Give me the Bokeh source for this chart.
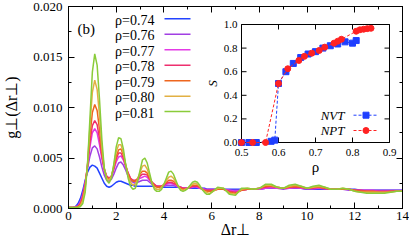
from bokeh.plotting import figure
from bokeh.models import (Range1d, LinearAxis, SingleIntervalTicker, PrintfTickFormatter,
                          CustomJSTickFormatter)
from bokeh.core.properties import value
from bokeh.embed import file_html
from bokeh.resources import INLINE

# ---------------- data: main panel g_perp(dr_perp) ----------------
r = [0.0, 0.1, 0.2, 0.3, 0.4, 0.5, 0.6, 0.7, 0.8, 0.9,
     1.0, 1.1, 1.2, 1.3, 1.4, 1.5, 1.6, 1.7, 1.8, 1.9,
     2.0, 2.1, 2.2, 2.3, 2.4, 2.5, 2.6, 2.7, 2.8, 2.9,
     3.0, 3.1, 3.2, 3.3, 3.4, 3.5, 3.6, 3.7, 3.8, 3.9,
     4.0, 4.1, 4.2, 4.3, 4.4, 4.5, 4.6, 4.7, 4.8, 4.9,
     5.0, 5.1, 5.2, 5.3, 5.4, 5.5, 5.6, 5.7, 5.8, 5.9,
     6.0, 6.25, 6.5, 6.75, 7.0, 7.25, 7.5, 7.75, 8.0, 8.25,
     8.5, 8.75, 9.0, 9.25, 9.5, 9.75, 10.0, 10.25, 10.5, 10.75,
     11.0, 11.25, 11.5, 11.75, 12.0, 12.25, 12.5, 12.75, 13.0, 13.25,
     13.5, 13.75, 14.0]

g_074 = [.0001, .0001, .0001, .0002, .0005, .0010, .0018, .0028, .0036, .0041,
         .0043, .0042, .0040, .0035, .0030, .0025, .0022, .0021, .0022, .0024,
         .0026, .0027, .0027, .0026, .0025, .0024, .0023, .0023, .0022, .0022,
         .0022, .0022, .0022, .0022, .0022, .0022, .0022, .0022, .0021, .0021,
         .0021, .0021, .0021, .0021, .0021, .0021, .0021, .0020, .0020, .0020,
         .0020, .0020, .0020, .0020, .0020, .0020, .0020, .0020, .0019, .0019,
         .0019, .0019, .0019, .0019, .0019, .0019, .0019, .0019, .0019, .0020,
         .0020, .0020, .0020, .0020, .0020, .0020, .0019, .0019, .0019, .0019,
         .0019, .0019, .0019, .0019, .0019, .0018, .0018, .0018, .0018, .0018,
         .0018, .0018, .0018]

g_076 = [.0001, .0001, .0001, .0002, .0003, .0007, .0015, .0026, .0040, .0052,
         .0060, .0062, .0059, .0051, .0041, .0033, .0028, .0027, .0029, .0034,
         .0040, .0045, .0046, .0043, .0038, .0032, .0028, .0026, .0025, .0026,
         .0027, .0028, .0028, .0028, .0026, .0024, .0023, .0022, .0022, .0022,
         .0022, .0023, .0023, .0023, .0023, .0022, .0021, .0021, .0020, .0020,
         .0020, .0020, .0021, .0021, .0021, .0020, .0020, .0019, .0019, .0019,
         .0019, .0019, .0019, .0018, .0018, .0018, .0019, .0019, .0019, .0020,
         .0020, .0020, .0019, .0020, .0020, .0020, .0019, .0019, .0020, .0019,
         .0019, .0019, .0019, .0018, .0018, .0018, .0018, .0018, .0018, .0018,
         .0018, .0018, .0018]

g_077 = [.0001, .0001, .0001, .0001, .0002, .0006, .0013, .0025, .0042, .0061,
         .0075, .0079, .0075, .0063, .0049, .0038, .0032, .0030, .0032, .0038,
         .0046, .0051, .0052, .0048, .0041, .0035, .0030, .0028, .0027, .0028,
         .0030, .0031, .0032, .0031, .0028, .0026, .0024, .0022, .0022, .0022,
         .0023, .0024, .0025, .0025, .0024, .0023, .0022, .0021, .0020, .0020,
         .0020, .0021, .0021, .0022, .0021, .0020, .0019, .0019, .0018, .0018,
         .0018, .0019, .0019, .0018, .0017, .0018, .0019, .0019, .0019, .0020,
         .0021, .0020, .0020, .0020, .0021, .0020, .0020, .0020, .0020, .0020,
         .0019, .0019, .0019, .0019, .0018, .0018, .0018, .0018, .0017, .0017,
         .0017, .0017, .0017]

g_078 = [.0001, .0001, .0001, .0001, .0002, .0005, .0012, .0024, .0043, .0066,
         .0082, .0087, .0083, .0069, .0052, .0039, .0032, .0030, .0032, .0040,
         .0049, .0055, .0055, .0050, .0042, .0035, .0030, .0028, .0028, .0029,
         .0032, .0034, .0034, .0033, .0029, .0026, .0024, .0022, .0022, .0022,
         .0023, .0025, .0026, .0026, .0025, .0024, .0022, .0021, .0020, .0020,
         .0020, .0021, .0022, .0022, .0022, .0021, .0019, .0018, .0018, .0018,
         .0018, .0019, .0019, .0017, .0016, .0018, .0019, .0019, .0020, .0021,
         .0022, .0021, .0020, .0021, .0021, .0021, .0020, .0020, .0021, .0020,
         .0019, .0019, .0019, .0019, .0018, .0018, .0017, .0017, .0017, .0017,
         .0017, .0017, .0017]

g_079 = [.0001, .0001, .0001, .0001, .0002, .0004, .0010, .0022, .0044, .0072,
         .0095, .0103, .0097, .0078, .0055, .0039, .0031, .0029, .0032, .0041,
         .0052, .0058, .0059, .0053, .0043, .0034, .0029, .0027, .0027, .0030,
         .0034, .0037, .0037, .0035, .0030, .0026, .0023, .0021, .0021, .0022,
         .0024, .0026, .0028, .0028, .0027, .0025, .0022, .0020, .0019, .0019,
         .0020, .0022, .0023, .0023, .0023, .0021, .0019, .0018, .0017, .0017,
         .0017, .0019, .0019, .0016, .0015, .0018, .0019, .0019, .0020, .0022,
         .0022, .0021, .0020, .0021, .0022, .0021, .0020, .0021, .0021, .0020,
         .0019, .0019, .0019, .0019, .0018, .0017, .0017, .0017, .0016, .0016,
         .0017, .0017, .0017]

g_080 = [.0001, .0001, .0001, .0001, .0001, .0003, .0008, .0020, .0045, .0082,
         .0115, .0127, .0118, .0092, .0060, .0040, .0030, .0028, .0032, .0043,
         .0056, .0063, .0063, .0055, .0043, .0032, .0026, .0023, .0024, .0029,
         .0036, .0042, .0043, .0039, .0032, .0025, .0021, .0019, .0019, .0021,
         .0024, .0028, .0031, .0032, .0030, .0026, .0022, .0019, .0018, .0019,
         .0020, .0022, .0024, .0025, .0024, .0022, .0019, .0017, .0016, .0015,
         .0016, .0020, .0020, .0015, .0014, .0019, .0020, .0019, .0020, .0023,
         .0023, .0021, .0020, .0022, .0023, .0022, .0020, .0021, .0022, .0021,
         .0019, .0019, .0020, .0019, .0017, .0016, .0016, .0016, .0016, .0016,
         .0016, .0017, .0017]

g_081 = [.0001, .0001, .0001, .0001, .0001, .0002, .0005, .0016, .0045, .0090,
         .0135, .0153, .0142, .0108, .0068, .0040, .0028, .0025, .0030, .0044,
         .0061, .0070, .0069, .0059, .0043, .0030, .0022, .0019, .0020, .0027,
         .0038, .0048, .0050, .0045, .0035, .0025, .0019, .0017, .0017, .0019,
         .0024, .0030, .0036, .0037, .0034, .0028, .0022, .0018, .0017, .0018,
         .0020, .0023, .0026, .0027, .0026, .0023, .0019, .0016, .0014, .0014,
         .0016, .0021, .0020, .0014, .0013, .0020, .0020, .0019, .0020, .0024,
         .0024, .0021, .0020, .0023, .0024, .0022, .0020, .0022, .0023, .0021,
         .0019, .0019, .0020, .0019, .0017, .0016, .0015, .0015, .0015, .0015,
         .0016, .0017, .0017]

series = [g_074, g_076, g_077, g_078, g_079, g_080, g_081]
rho_labels = ["ρ=0.74", "ρ=0.76", "ρ=0.77", "ρ=0.78", "ρ=0.79", "ρ=0.80", "ρ=0.81"]
colors = ["#2343ff", "#a13fe3", "#e43ae6", "#ee2f6e", "#ee661e", "#e2b043", "#8acc3a"]

# ---------------- data: inset S(rho) ----------------
rho_nvt = [0.50, 0.52, 0.54, 0.58, 0.59, 0.60, 0.62, 0.64, 0.66, 0.68, 0.70, 0.72,
           0.74, 0.76, 0.78, 0.80, 0.81]
S_nvt = [0.00, 0.00, 0.00, 0.01, 0.02, 0.50, 0.60, 0.67, 0.72, 0.75, 0.77, 0.80,
         0.82, 0.835, 0.853, 0.842, 0.864]
rho_npt = [0.50, 0.53, 0.565, 0.60, 0.625, 0.655, 0.67, 0.69, 0.71, 0.725, 0.75,
           0.76, 0.77, 0.81, 0.82, 0.83, 0.84, 0.85]
S_npt = [0.00, 0.00, 0.00, 0.50, 0.625, 0.695, 0.73, 0.757, 0.78, 0.808, 0.842,
         0.858, 0.875, 0.943, 0.955, 0.96, 0.965, 0.968]
inset_xticks = [0.5, 0.6, 0.7, 0.8, 0.9]
inset_yticks = [0.0, 0.2, 0.4, 0.6, 0.8, 1.0]

# ---------------- layout (canvas px) ----------------
W, H = 409, 244
FL, FR, FT, FB = 68, 402, 6, 208
FONT = "Liberation Serif"

p = figure(width=W, height=H, x_range=Range1d(0, 14), y_range=Range1d(0, 0.02),
           output_backend="svg", toolbar_location=None,
           min_border_left=FL, min_border_right=W - FR,
           min_border_top=FT, min_border_bottom=H - FB)
p.background_fill_color = "white"
p.border_fill_color = "white"
p.outline_line_color = "black"
p.grid.visible = False


def dx(px):  # canvas px -> data x
    return (px - FL) * 14.0 / (FR - FL)


def dy(py):  # canvas px -> data y
    return (FB - py) * 0.02 / (FB - FT)


def style_axis(ax, show_labels=True):
    ax.major_tick_in = 6
    ax.major_tick_out = 0
    ax.minor_tick_in = 3
    ax.minor_tick_out = 0
    ax.axis_line_color = "black"
    ax.major_tick_line_color = "black"
    ax.minor_tick_line_color = "black"
    if show_labels:
        ax.major_label_text_font = FONT
        ax.major_label_text_font_size = "13px"
        ax.major_label_text_color = "black"
        ax.axis_label_text_font = FONT
        ax.axis_label_text_font_size = "16px"
        ax.axis_label_text_font_style = "normal"
        ax.axis_label_text_color = "black"
    else:
        ax.formatter = CustomJSTickFormatter(code="return ''")
        ax.major_label_standoff = 0


p.xaxis.ticker = SingleIntervalTicker(interval=2, num_minor_ticks=2)
p.yaxis.ticker = SingleIntervalTicker(interval=0.005, num_minor_ticks=2)
p.yaxis.formatter = PrintfTickFormatter(format="%.3f")
style_axis(p.xaxis[0])
style_axis(p.yaxis[0])
p.xaxis.major_label_standoff = 3
p.yaxis.major_label_standoff = 6
p.xaxis.axis_label = "Δr⊥"
p.yaxis.axis_label = "g⊥(Δr⊥)"
p.xaxis.axis_label_standoff = -2
p.yaxis.axis_label_standoff = 10

top = LinearAxis(ticker=SingleIntervalTicker(interval=2, num_minor_ticks=2))
right = LinearAxis(ticker=SingleIntervalTicker(interval=0.005, num_minor_ticks=2))
style_axis(top, False)
style_axis(right, False)
p.add_layout(top, "above")
p.add_layout(right, "right")

# ---------------- main curves ----------------
for ys, c in zip(series, colors):
    p.line(r, ys, line_color=c, line_width=1.5)

# legend (label left, sample line right)
row0, rowstep = 18.3, 15.47
for i, (lab, c) in enumerate(zip(rho_labels, colors)):
    yy = row0 + i * rowstep
    p.segment(x0=[dx(164)], y0=[dy(yy)], x1=[dx(190)], y1=[dy(yy)], line_color=c, line_width=1.5)
    p.text(x=[dx(154)], y=[dy(yy + 1.5)], text=[lab], text_font=value(FONT),
           text_font_size="14px", text_align="right", text_baseline="middle", text_color="black")

p.text(x=[dx(77)], y=[dy(28)], text=["(b)"], text_font=value(FONT), text_font_size="15px",
       text_align="left", text_baseline="alphabetic", text_color="black")

# ---------------- inset (own ranges) ----------------
IL, IR, IT, IB = 241, 389, 24, 142  # canvas px of inset frame
ixs = 0.4 / (IR - IL)
iys = 1.0 / (IB - IT)
p.extra_x_ranges = {"ix": Range1d(0.5 - (IL - FL) * ixs, 0.9 + (FR - IR) * ixs)}
p.extra_y_ranges = {"iy": Range1d(0.0 - (FB - IB) * iys, 1.0 + (IT - FT) * iys)}
IN = dict(x_range_name="ix", y_range_name="iy")

p.quad(left=[0.5], right=[0.9], bottom=[0.0], top=[1.0], fill_color="white",
       line_color="black", line_width=1, **IN)

tk = 5
p.segment(x0=inset_xticks, y0=[0.0] * 5, x1=inset_xticks, y1=[tk * iys] * 5, line_color="black", **IN)
p.segment(x0=inset_xticks, y0=[1.0] * 5, x1=inset_xticks, y1=[1.0 - tk * iys] * 5, line_color="black", **IN)
p.segment(x0=[0.5] * 6, y0=inset_yticks, x1=[0.5 + tk * ixs] * 6, y1=inset_yticks, line_color="black", **IN)
p.segment(x0=[0.9] * 6, y0=inset_yticks, x1=[0.9 - tk * ixs] * 6, y1=inset_yticks, line_color="black", **IN)

p.text(x=inset_xticks, y=[-10 * iys] * 5, text=["%.1f" % v for v in inset_xticks],
       text_font=value(FONT), text_font_size="11px", text_align="center", text_baseline="middle",
       text_color="black", **IN)
p.text(x=[0.5 - 4 * ixs] * 6, y=inset_yticks, text=["%.1f" % v for v in inset_yticks],
       text_font=value(FONT), text_font_size="11px", text_align="right", text_baseline="middle",
       text_color="black", **IN)
p.text(x=[0.5 + (315 - IL) * ixs], y=[-(166 - IB) * iys], text=["ρ"], text_font=value(FONT),
       text_font_size="15px", text_align="center", text_baseline="alphabetic", text_color="black", **IN)
p.text(x=[0.5 - (IL - 212) * ixs], y=[0.5], text=["S"], text_font=value(FONT),
       text_font_style="italic", text_font_size="13px", text_align="center",
       text_baseline="alphabetic", angle=1.5708, text_color="black", **IN)

blue, red = "#1f3fff", "#ff2222"
p.line(rho_nvt, S_nvt, line_color=blue, line_dash="3 2", line_width=1, **IN)
p.scatter(rho_nvt, S_nvt, marker="square", size=6, fill_color=blue, line_color=blue, **IN)
p.line(rho_npt, S_npt, line_color=red, line_dash="3 2", line_width=1, **IN)
p.scatter(rho_npt, S_npt, marker="circle", size=6, fill_color=red, line_color=red, **IN)

# inset legend
for name, c, mk, yy in [("NVT", blue, "square", 114.7), ("NPT", red, "circle", 130.0)]:
    sy = (IB - yy) * iys
    p.segment(x0=[0.5 + (353 - IL) * ixs], y0=[sy], x1=[0.5 + (378 - IL) * ixs], y1=[sy],
              line_color=c, line_dash="3 2", **IN)
    p.scatter([0.5 + (365.5 - IL) * ixs], [sy], marker=mk, size=6, fill_color=c, line_color=c, **IN)
    p.text(x=[0.5 + (344 - IL) * ixs], y=[sy], text=[name], text_font=value(FONT),
           text_font_style="italic", text_font_size="13px", text_align="right",
           text_baseline="middle", text_color="black", **IN)

open("out.html", "w").write(file_html(p, INLINE))
